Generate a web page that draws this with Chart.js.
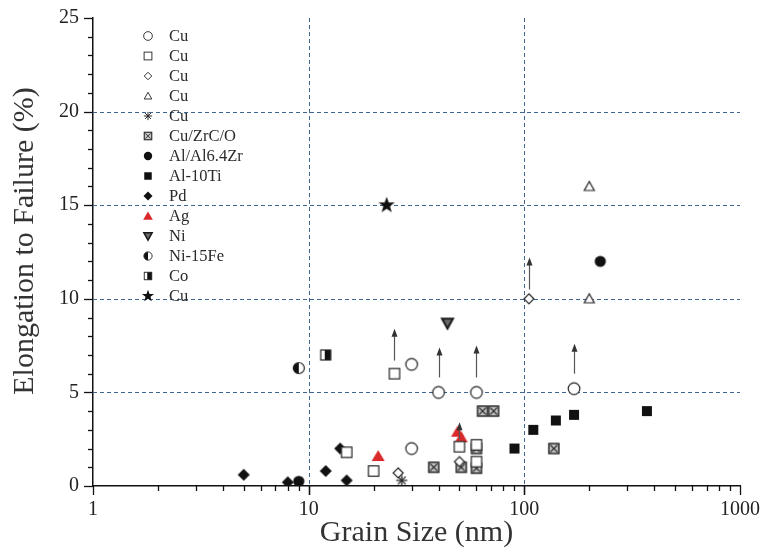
<!DOCTYPE html>
<html>
<head>
<meta charset="utf-8">
<script src="https://cdn.jsdelivr.net/npm/chart.js@4/dist/chart.umd.min.js"></script>
<style>
  html, body { margin: 0; padding: 0; background: #fff; }
  #wrap { width: 762px; height: 552px; }
</style>
</head>
<body>
<div id="wrap"><canvas id="c" width="762" height="552"></canvas></div>
<script>
// ---- data: grain size (nm) vs. elongation to failure (%) ----
const seriesNames = ['Cu', 'Cu', 'Cu', 'Cu', 'Cu', 'Cu/ZrC/O', 'Al/Al6.4Zr', 'Al-10Ti', 'Pd', 'Ag', 'Ni', 'Ni-15Fe', 'Co', 'Cu'];

const cuCircleX   = [30, 40, 60, 170, 30];
const cuCircleY   = [6.5, 5, 5, 5.2, 2];
const cuSquareX   = [25, 15, 20, 50, 60, 60];
const cuSquareY   = [6, 1.8, 0.8, 2.1, 2.2, 1.3];
const cuDiamondX  = [105, 26, 50];
const cuDiamondY  = [10, 0.7, 1.3];
const cuTriangleX = [200, 200];
const cuTriangleY = [16, 10];
const cuAsteriskX = [27];
const cuAsteriskY = [0.3];
const cuZrcoX     = [38, 51, 60, 60, 64, 72, 137];
const cuZrcoY     = [1, 1, 0.95, 2, 4, 4, 2];
const alZrX       = [9, 225];
const alZrY       = [0.25, 12];
const alTiX       = [90, 110, 140, 170, 370];
const alTiY       = [2, 3, 3.5, 3.8, 4];
const pdX         = [5, 8, 12, 14, 15];
const pdY         = [0.6, 0.2, 0.8, 2, 0.3];
const agX         = [21, 49, 51];
const agY         = [1.6, 2.9, 2.6];
const niX         = [44];
const niY         = [8.7];
const niFeX       = [9];
const niFeY       = [6.3];
const coX         = [12];
const coY         = [7];
const cuStarX     = [23];
const cuStarY     = [15];

// lower-bound arrows (grain size, start and end of the arrow in %)
const arrowX    = [25, 40, 60, 170, 105, 50];
const arrowFrom = [6.7, 5.8, 5.8, 6.0, 10.5, 2.5];
const arrowTo   = [8.4, 7.4, 7.5, 7.6, 12.2, 3.4];

// axis ticks
const xMajorTicks = [1, 10, 100, 1000];
const yMajorTicks = [0, 5, 10, 15, 20, 25];
const xGridAt = [10, 100];
const yGridAt = [5, 10, 15, 20];

const xTitle = 'Grain Size (nm)';
const yTitle = 'Elongation to Failure (%)';

// ---- marker images ----
function marker(kind, s) {
  const size = 22;
  const c = document.createElement('canvas');
  c.width = size; c.height = size;
  const g = c.getContext('2d');
  g.translate(size / 2, size / 2);
  g.scale(s, s);
  g.lineWidth = 1.2;
  g.strokeStyle = '#222';
  g.fillStyle = '#fff';
  const poly = (pts) => { g.beginPath(); pts.forEach((p, i) => i ? g.lineTo(p[0], p[1]) : g.moveTo(p[0], p[1])); g.closePath(); };
  switch (kind) {
    case 'circle':
      g.beginPath(); g.arc(0, 0, 5.8, 0, Math.PI * 2); g.fill(); g.stroke(); break;
    case 'square':
      g.fillRect(-5.2, -5.2, 10.4, 10.4); g.strokeRect(-5.2, -5.2, 10.4, 10.4); break;
    case 'diamond':
      poly([[0, -5], [5, 0], [0, 5], [-5, 0]]); g.fill(); g.stroke(); break;
    case 'triangle':
      poly([[0, -5], [5, 4], [-5, 4]]); g.fill(); g.stroke(); break;
    case 'asterisk':
      g.lineWidth = 1.3;
      for (let a = 0; a < 4; a++) {
        const t = a * Math.PI / 4;
        g.beginPath(); g.moveTo(-5.5 * Math.cos(t), -5.5 * Math.sin(t)); g.lineTo(5.5 * Math.cos(t), 5.5 * Math.sin(t)); g.stroke();
      }
      break;
    case 'xsquare':
      g.fillStyle = '#c4c4c4'; g.fillRect(-5, -5, 10, 10);
      g.strokeStyle = '#2a2a2a'; g.lineWidth = 1.5; g.strokeRect(-5, -5, 10, 10);
      g.lineWidth = 1.1;
      g.beginPath(); g.moveTo(-3.5, -3.5); g.lineTo(3.5, 3.5); g.moveTo(3.5, -3.5); g.lineTo(-3.5, 3.5); g.stroke();
      break;
    case 'fcircle':
      g.fillStyle = '#111'; g.beginPath(); g.arc(0, 0, 5.6, 0, Math.PI * 2); g.fill(); break;
    case 'fsquare':
      g.fillStyle = '#111'; g.fillRect(-5, -5, 10, 10); break;
    case 'fdiamond':
      g.fillStyle = '#111'; poly([[0, -6], [6, 0], [0, 6], [-6, 0]]); g.fill(); break;
    case 'rtriangle':
      g.fillStyle = '#d9292b'; poly([[0, -6], [6.5, 5], [-6.5, 5]]); g.fill(); break;
    case 'invtriangle':
      g.fillStyle = '#6a6a6a'; g.strokeStyle = '#1a1a1a'; g.lineWidth = 2;
      poly([[-5.5, -4.5], [5.5, -4.5], [0, 5.5]]); g.fill(); g.stroke(); break;
    case 'halfcircle':
      g.beginPath(); g.arc(0, 0, 5.5, 0, Math.PI * 2); g.fill();
      g.fillStyle = '#111'; g.beginPath(); g.arc(0, 0, 5.5, Math.PI / 2, Math.PI * 1.5); g.closePath(); g.fill();
      g.beginPath(); g.arc(0, 0, 5.5, 0, Math.PI * 2); g.stroke(); break;
    case 'halfsquare':
      g.fillRect(-5, -5, 10, 10);
      g.fillStyle = '#111'; g.fillRect(-1, -5, 6, 10);
      g.strokeRect(-5, -5, 10, 10); break;
    case 'star': {
      g.fillStyle = '#111';
      const pts = [];
      for (let i = 0; i < 10; i++) {
        const r = i % 2 ? 3.5 : 8.5;
        const a = -Math.PI / 2 + i * Math.PI / 5;
        pts.push([r * Math.cos(a), r * Math.sin(a)]);
      }
      poly(pts); g.fill(); break;
    }
  }
  return c;
}

const kinds = ['circle', 'square', 'diamond', 'triangle', 'asterisk', 'xsquare', 'fcircle', 'fsquare', 'fdiamond', 'rtriangle', 'invtriangle', 'halfcircle', 'halfsquare', 'star'];
const seriesX = [cuCircleX, cuSquareX, cuDiamondX, cuTriangleX, cuAsteriskX, cuZrcoX, alZrX, alTiX, pdX, agX, niX, niFeX, coX, cuStarX];
const seriesY = [cuCircleY, cuSquareY, cuDiamondY, cuTriangleY, cuAsteriskY, cuZrcoY, alZrY, alTiY, pdY, agY, niY, niFeY, coY, cuStarY];

const plotMarkers = kinds.map(k => marker(k, 1));
const legendMarkers = kinds.map(k => marker(k, 0.75));

const datasets = seriesNames.map((name, i) => ({
  label: name,
  data: seriesX[i].map((x, j) => ({ x: x, y: seriesY[i][j] })),
  pointStyle: plotMarkers[i],
  pointRadius: 6,
  pointHoverRadius: 6,
  showLine: false
}));

const FONT = '"Liberation Serif", "Times New Roman", serif';

// dashed reference grid, outward tick marks, arrows, y title and the key
const decorations = {
  id: 'decorations',
  beforeDatasetsDraw(chart) {
    const { ctx, chartArea: a, scales: { x, y } } = chart;
    ctx.save();
    ctx.strokeStyle = '#3f6590';
    ctx.lineWidth = 1;
    ctx.setLineDash([4, 3]);
    yGridAt.forEach(v => {
      const py = Math.round(y.getPixelForValue(v)) + 0.5;
      ctx.beginPath(); ctx.moveTo(a.left, py); ctx.lineTo(a.right, py); ctx.stroke();
    });
    xGridAt.forEach(v => {
      const px = Math.round(x.getPixelForValue(v)) + 0.5;
      ctx.beginPath(); ctx.moveTo(px, a.top); ctx.lineTo(px, a.bottom); ctx.stroke();
    });
    ctx.restore();
  },
  afterDatasetsDraw(chart) {
    const { ctx, chartArea: a, scales: { x, y } } = chart;
    ctx.save();
    // tick marks
    ctx.strokeStyle = '#111';
    ctx.lineWidth = 1.3;
    for (let d = 1; d < 1000; d *= 10) {
      for (let m = 1; m <= 10; m++) {
        const v = d * m;
        const major = xMajorTicks.includes(v);
        const px = Math.round(x.getPixelForValue(v)) + 0.5;
        ctx.beginPath(); ctx.moveTo(px, a.bottom); ctx.lineTo(px, a.bottom + (major ? 9 : 5)); ctx.stroke();
      }
    }
    for (let v = 0; v <= 25; v++) {
      const major = yMajorTicks.includes(v);
      const py = Math.round(y.getPixelForValue(v)) + 0.5;
      ctx.beginPath(); ctx.moveTo(a.left, py); ctx.lineTo(a.left - (major ? 9 : 5), py); ctx.stroke();
    }
    // arrows marking lower bounds
    ctx.strokeStyle = '#555';
    ctx.fillStyle = '#333';
    ctx.lineWidth = 1.2;
    arrowX.forEach((xv, i) => {
      const px = Math.round(x.getPixelForValue(xv)) + 0.5;
      const y0 = y.getPixelForValue(arrowFrom[i]);
      const y1 = y.getPixelForValue(arrowTo[i]);
      ctx.beginPath(); ctx.moveTo(px, y0); ctx.lineTo(px, y1 + 6); ctx.stroke();
      ctx.beginPath(); ctx.moveTo(px, y1); ctx.lineTo(px + 3, y1 + 8); ctx.lineTo(px - 3, y1 + 8); ctx.closePath(); ctx.fill();
    });
    // y axis title
    ctx.save();
    ctx.translate(25, 241);
    ctx.rotate(-Math.PI / 2);
    ctx.font = '30px ' + FONT;
    ctx.fillStyle = '#333';
    ctx.textAlign = 'center';
    ctx.textBaseline = 'middle';
    ctx.fillText(yTitle, 0, 0);
    ctx.restore();
    // key
    ctx.font = '16.5px ' + FONT;
    ctx.textBaseline = 'middle';
    ctx.textAlign = 'left';
    ctx.fillStyle = '#2a2a2a';
    seriesNames.forEach((name, i) => {
      const ly = 36 + i * 20;
      const img = legendMarkers[i];
      ctx.drawImage(img, 148 - img.width / 2, ly - img.height / 2);
      ctx.fillText(name, 169, ly + 1);
    });
    ctx.restore();
  }
};

new Chart(document.getElementById('c'), {
  type: 'scatter',
  data: { datasets: datasets },
  plugins: [decorations],
  options: {
    responsive: false,
    animation: false,
    devicePixelRatio: 1,
    layout: { padding: { top: 18, right: 22, left: 0, bottom: 0 } },
    plugins: { legend: { display: false }, tooltip: { enabled: false } },
    scales: {
      x: {
        type: 'logarithmic',
        min: 1,
        max: 1000,
        afterBuildTicks: (s) => { s.ticks = xMajorTicks.map(v => ({ value: v })); },
        afterFit: (s) => { s.height = 66; s.paddingLeft = 0; s.paddingRight = 0; },
        grid: { display: false, drawTicks: false },
        border: { display: true, color: '#111', width: 1.5 },
        ticks: {
          autoSkip: false, maxRotation: 0, padding: 12,
          color: '#222', font: { family: FONT, size: 20 },
          callback: (v) => String(v)
        },
        title: {
          display: true, text: xTitle, color: '#333',
          font: { family: FONT, size: 30 }, padding: { top: 0, bottom: 1 }
        }
      },
      y: {
        min: 0,
        max: 25,
        afterBuildTicks: (s) => { s.ticks = yMajorTicks.map(v => ({ value: v })); },
        afterFit: (s) => { s.width = 93; s.paddingTop = 0; s.paddingBottom = 0; },
        grid: { display: false, drawTicks: false },
        border: { display: true, color: '#111', width: 1.5 },
        ticks: {
          padding: 14, color: '#222', font: { family: FONT, size: 20 }
        },
        title: { display: false }
      }
    }
  }
});
</script>
</body>
</html>
